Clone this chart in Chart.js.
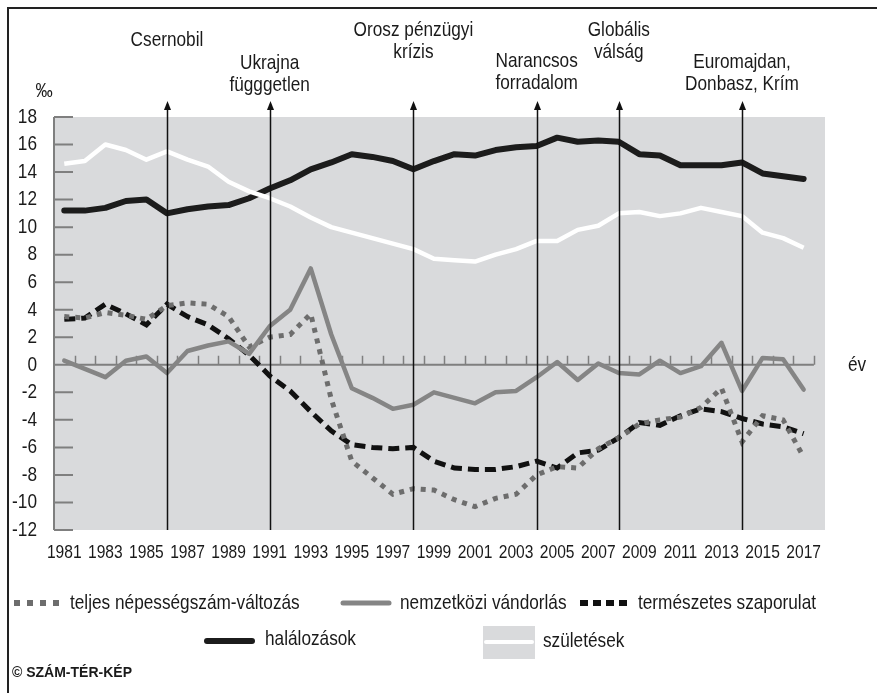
<!DOCTYPE html>
<html>
<head>
<meta charset="utf-8">
<script src="https://cdn.jsdelivr.net/npm/chart.js@4.4.1/dist/chart.umd.min.js"></script>
<style>
    html, body { margin: 0; padding: 0; background: #fff; }
    #wrap { width: 877px; height: 693px; }
</style>
</head>
<body>
<div id="wrap"><canvas id="myChart" width="877" height="693"></canvas></div>
<script>
/**
 * Ukrajna népmozgalma 1981-2017, ezrelék.
 */

var years = [1981, 1982, 1983, 1984, 1985, 1986, 1987, 1988, 1989, 1990,
             1991, 1992, 1993, 1994, 1995, 1996, 1997, 1998, 1999, 2000,
             2001, 2002, 2003, 2004, 2005, 2006, 2007, 2008, 2009, 2010,
             2011, 2012, 2013, 2014, 2015, 2016, 2017];

var births = [14.6, 14.8, 16.0, 15.6, 14.9, 15.5, 14.9, 14.4, 13.3, 12.6,
              12.1, 11.5, 10.7, 10.0, 9.6, 9.2, 8.8, 8.4, 7.7, 7.6,
              7.5, 8.0, 8.4, 9.0, 9.0, 9.8, 10.1, 11.0, 11.1, 10.8,
              11.0, 11.4, 11.1, 10.8, 9.6, 9.2, 8.5];

var deaths = [11.2, 11.2, 11.4, 11.9, 12.0, 11.0, 11.3, 11.5, 11.6, 12.1,
              12.8, 13.4, 14.2, 14.7, 15.3, 15.1, 14.8, 14.2, 14.8, 15.3,
              15.2, 15.6, 15.8, 15.9, 16.5, 16.2, 16.3, 16.2, 15.3, 15.2,
              14.5, 14.5, 14.5, 14.7, 13.9, 13.7, 13.5];

var migration = [0.3, -0.3, -0.9, 0.3, 0.6, -0.6, 1.0, 1.4, 1.7, 0.8,
                 2.8, 4.0, 7.0, 2.2, -1.7, -2.4, -3.2, -2.9, -2.0, -2.4,
                 -2.8, -2.0, -1.9, -0.9, 0.2, -1.1, 0.1, -0.6, -0.7, 0.3,
                 -0.6, -0.1, 1.6, -1.9, 0.5, 0.4, -1.8];

var totalChange = [3.5, 3.4, 3.8, 3.6, 3.3, 4.3, 4.5, 4.4, 3.5, 1.3,
                   2.0, 2.2, 3.7, -2.5, -7.0, -8.2, -9.4, -9.0, -9.1, -9.8,
                   -10.3, -9.7, -9.4, -8.0, -7.4, -7.5, -6.1, -5.3, -4.3, -4.0,
                   -3.8, -3.1, -1.7, -5.6, -3.7, -4.0, -6.7];

var natural = [3.3, 3.4, 4.4, 3.7, 2.9, 4.4, 3.5, 2.9, 1.9, 0.7,
               -0.8, -1.9, -3.4, -4.8, -5.8, -6.0, -6.1, -6.0, -7.0, -7.5,
               -7.6, -7.6, -7.4, -7.0, -7.5, -6.4, -6.2, -5.3, -4.2, -4.4,
               -3.7, -3.2, -3.4, -3.9, -4.3, -4.5, -5.0];

var xTickLabels = [1981, 1983, 1985, 1987, 1989, 1991, 1993, 1995, 1997, 1999,
                   2001, 2003, 2005, 2007, 2009, 2011, 2013, 2015, 2017];
var yTickLabels = [-12, -10, -8, -6, -4, -2, 0, 2, 4, 6, 8, 10, 12, 14, 16, 18];

var eventYears  = [1986, 1991, 1998, 2004, 2008, 2014];
var eventLabels = [['Csernobil'], ['Ukrajna', 'függgetlen'], ['Orosz pénzügyi', 'krízis'],
                   ['Narancsos', 'forradalom'], ['Globális', 'válság'], ['Euromajdan,', 'Donbasz, Krím']];
var eventRows   = [40, 63, 30, 61, 30, 62];

var INK = '#1a1a1a';

// no narrow face installed, so squeeze Liberation Sans sideways
function narrow(c, text, x, y, size, align) {
    c.save();
    c.translate(x, y);
    c.scale(0.82, 1);
    c.font = size + 'px "Liberation Sans", Arial, sans-serif';
    c.textAlign = align || 'left';
    c.textBaseline = 'middle';
    c.fillText(text, 0, 0);
    c.restore();
}

function pts(values) {
    return years.map(function(yr, i) { return {x: yr, y: values[i]}; });
}

var decor = {
    id: 'decor',

    beforeDraw: function(chart) {
        var a = chart.chartArea, c = chart.ctx;
        c.save();
        c.fillStyle = '#d9dadc';
        c.fillRect(a.left, a.top, a.right - a.left, a.bottom - a.top);
        c.restore();
    },

    beforeDatasetsDraw: function(chart) {
        var a = chart.chartArea, c = chart.ctx;
        var xs = chart.scales.x, ys = chart.scales.y;
        var y0 = ys.getPixelForValue(0);

        c.save();
        c.strokeStyle = '#7f7f7f';
        c.lineWidth = 2;
        c.beginPath();
        c.moveTo(a.left, a.top);
        c.lineTo(a.left, a.bottom);
        ys.ticks.forEach(function(t) {
            var y = ys.getPixelForValue(t.value);
            c.moveTo(a.left, y);
            c.lineTo(a.left + 19, y);
        });
        c.moveTo(a.left, y0);
        c.lineTo(xs.getPixelForValue(years[years.length - 1] + 0.5), y0);
        c.stroke();

        // small year ticks on the zero line
        c.lineWidth = 1.5;
        c.beginPath();
        years.forEach(function(yr) {
            var x = Math.round(xs.getPixelForValue(yr + 0.5)) + 0.5;
            c.moveTo(x, y0);
            c.lineTo(x, y0 - 9);
        });
        c.stroke();
        c.restore();
    },

    afterDatasetsDraw: function(chart) {
        var a = chart.chartArea, c = chart.ctx, xs = chart.scales.x;
        c.save();
        c.strokeStyle = '#111';
        c.fillStyle = '#111';
        c.lineWidth = 1.5;
        eventYears.forEach(function(yr) {
            var x = Math.round(xs.getPixelForValue(yr)) + 0.5;
            c.beginPath();
            c.moveTo(x, a.bottom);
            c.lineTo(x, 106);
            c.stroke();
            c.beginPath();
            c.moveTo(x, 101);
            c.lineTo(x - 3.5, 110);
            c.lineTo(x + 3.5, 110);
            c.closePath();
            c.fill();
        });
        c.restore();
    },

    afterDraw: function(chart) {
        var c = chart.ctx, xs = chart.scales.x, ys = chart.scales.y;
        c.save();
        c.fillStyle = INK;

        // axis labels
        ys.ticks.forEach(function(t) {
            narrow(c, String(t.value), 37, ys.getPixelForValue(t.value), 21, 'right');
        });
        xs.ticks.forEach(function(t) {
            narrow(c, String(t.value), xs.getPixelForValue(t.value), 553, 19, 'center');
        });

        // event captions
        eventYears.forEach(function(yr, i) {
            var x = xs.getPixelForValue(yr);
            eventLabels[i].forEach(function(line, j) {
                narrow(c, line, x, eventRows[i] + j * 22, 21, 'center');
            });
        });

        narrow(c, '‰', 44, 91, 21, 'center');
        narrow(c, 'év', 848, ys.getPixelForValue(0), 21, 'left');

        // legend
        var r1 = 603, r2 = 641;
        c.lineCap = 'butt';

        c.strokeStyle = '#6d6d6d';
        c.lineWidth = 6;
        c.setLineDash([6, 7]);
        c.beginPath(); c.moveTo(14, r1); c.lineTo(64, r1); c.stroke();

        c.strokeStyle = '#111';
        c.setLineDash([8, 5]);
        c.beginPath(); c.moveTo(580, r1); c.lineTo(627, r1); c.stroke();
        c.setLineDash([]);

        c.lineCap = 'round';
        c.strokeStyle = '#858585';
        c.lineWidth = 5;
        c.beginPath(); c.moveTo(343, r1); c.lineTo(389, r1); c.stroke();

        c.strokeStyle = '#1c1c1c';
        c.lineWidth = 6;
        c.beginPath(); c.moveTo(207, r2); c.lineTo(252, r2); c.stroke();

        c.fillStyle = '#d9dadc';
        c.fillRect(483, 626, 52, 33);
        c.strokeStyle = '#fff';
        c.lineWidth = 4;
        c.beginPath(); c.moveTo(486, r2 + 1); c.lineTo(532, r2 + 1); c.stroke();

        c.fillStyle = INK;
        narrow(c, 'teljes népességszám-változás', 70, r1, 21);
        narrow(c, 'nemzetközi vándorlás', 400, r1, 21);
        narrow(c, 'természetes szaporulat', 638, r1, 21);
        narrow(c, 'halálozások', 265, r2 - 2, 21);
        narrow(c, 'születések', 543, r2, 21);

        c.font = 'bold 14px "Liberation Sans", sans-serif';
        c.textBaseline = 'middle';
        c.textAlign = 'left';
        c.fillText('© SZÁM-TÉR-KÉP', 12, 673);

        // frame
        c.strokeStyle = '#222';
        c.lineWidth = 2;
        c.lineCap = 'butt';
        c.beginPath();
        c.moveTo(8, 693);
        c.lineTo(8, 8);
        c.lineTo(877, 8);
        c.stroke();
        c.restore();
    }
};

var ctx = document.getElementById('myChart').getContext('2d');

var chart = new Chart(ctx, {
    type: 'line',

    data: {
        datasets: [{
            label: 'születések',
            data: pts(births),
            borderColor: '#ffffff',
            borderWidth: 4.5,
            borderJoinStyle: 'round'
        }, {
            label: 'halálozások',
            data: pts(deaths),
            borderColor: '#1c1c1c',
            borderWidth: 6,
            borderCapStyle: 'round',
            borderJoinStyle: 'round'
        }, {
            label: 'nemzetközi vándorlás',
            data: pts(migration),
            borderColor: '#858585',
            borderWidth: 4.5,
            borderCapStyle: 'round',
            borderJoinStyle: 'round'
        }, {
            label: 'teljes népességszám-változás',
            data: pts(totalChange),
            borderColor: '#6d6d6d',
            borderWidth: 5,
            borderDash: [5, 6]
        }, {
            label: 'természetes szaporulat',
            data: pts(natural),
            borderColor: '#111111',
            borderWidth: 5,
            borderDash: [11, 6]
        }]
    },

    options: {
        responsive: false,
        animation: false,
        layout: {padding: {left: 0, top: 117, right: 52, bottom: 123}},
        elements: {point: {radius: 0}, line: {tension: 0}},
        plugins: {legend: {display: false}, tooltip: {enabled: false}},
        scales: {
            x: {
                type: 'linear',
                min: 1980.5,
                max: 2018.04,
                grid: {display: false},
                border: {display: false},
                afterBuildTicks: function(axis) {
                    axis.ticks = xTickLabels.map(function(v) { return {value: v}; });
                },
                afterFit: function(axis) { axis.height = 40; },
                ticks: {display: false}
            },
            y: {
                min: -12,
                max: 18,
                grid: {display: false, drawTicks: false},
                border: {display: false},
                afterBuildTicks: function(axis) {
                    axis.ticks = yTickLabels.map(function(v) { return {value: v}; });
                },
                afterFit: function(axis) { axis.width = 54; },
                ticks: {display: false}
            }
        }
    },

    plugins: [decor]
});
</script>
</body>
</html>
